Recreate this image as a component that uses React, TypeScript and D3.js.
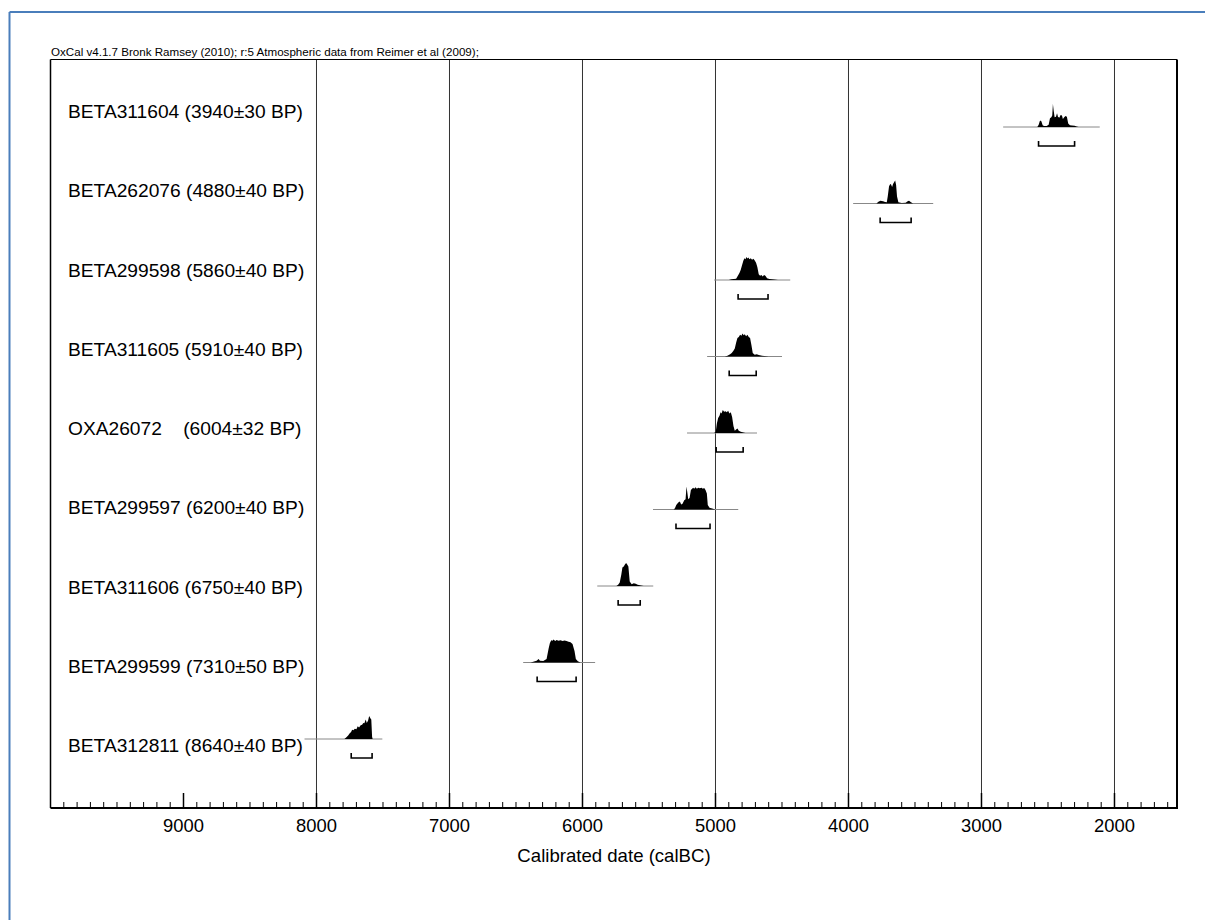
import React from "react";
import * as d3 from "d3";

const header = "OxCal v4.1.7 Bronk Ramsey (2010); r:5 Atmospheric data from Reimer et al (2009);";
const axisTitle = "Calibrated date (calBC)";
const majorTicks = [9000, 8000, 7000, 6000, 5000, 4000, 3000, 2000];
const gridYears = [8000, 7000, 6000, 5000, 4000, 3000, 2000];

const labels = [
  "BETA311604 (3940±30 BP)",
  "BETA262076 (4880±40 BP)",
  "BETA299598 (5860±40 BP)",
  "BETA311605 (5910±40 BP)",
  "OXA26072    (6004±32 BP)",
  "BETA299597 (6200±40 BP)",
  "BETA311606 (6750±40 BP)",
  "BETA299599 (7310±50 BP)",
  "BETA312811 (8640±40 BP)",
];

// baseline extents [from, to] in calBC
const baselineRanges: [number, number][] = [
  [2837, 2111],
  [3965, 3363],
  [5010, 4438],
  [5063, 4500],
  [5214, 4688],
  [5470, 4829],
  [5889, 5468],
  [6446, 5905],
  [8090, 7505],
];

// 95.4% ranges (brackets)
const hpdRanges: [number, number][] = [
  [2571, 2300],
  [3762, 3529],
  [4830, 4605],
  [4897, 4694],
  [4995, 4792],
  [5297, 5041],
  [5732, 5566],
  [6341, 6048],
  [7739, 7582],
];

// probability distributions: [calBC, relative probability]
const dist1: [number, number][] = [
  [2580, 0], [2570, 0.1], [2560, 0.28], [2550, 0.25], [2540, 0.08], [2530, 0.04], [2510, 0.04],
  [2495, 0.1], [2485, 0.38], [2475, 0.42], [2468, 0.5], [2463, 1.0], [2457, 0.7], [2450, 0.42],
  [2440, 0.45], [2432, 0.6], [2425, 0.45], [2415, 0.4], [2405, 0.52], [2395, 0.5], [2388, 0.35],
  [2378, 0.42], [2368, 0.48], [2358, 0.45], [2348, 0.15], [2335, 0.08], [2320, 0.06], [2300, 0.05],
  [2285, 0.02], [2270, 0],
];
const dist2: [number, number][] = [
  [3790, 0], [3775, 0.08], [3760, 0.12], [3740, 0.1], [3725, 0.06], [3712, 0.05], [3705, 0.3],
  [3695, 0.75], [3686, 0.85], [3680, 0.83], [3672, 0.72], [3665, 0.85], [3655, 0.95], [3649, 1.0],
  [3642, 0.8], [3635, 0.3], [3625, 0.05], [3600, 0.02], [3570, 0.03], [3555, 0.1], [3545, 0.12],
  [3530, 0.05], [3515, 0],
];
const dist3: [number, number][] = [
  [4900, 0], [4880, 0.03], [4845, 0.05], [4835, 0.15], [4820, 0.3], [4810, 0.45], [4800, 0.65],
  [4790, 0.85], [4782, 0.95], [4774, 0.9], [4768, 1.0], [4760, 0.93], [4752, 0.98], [4745, 0.9],
  [4735, 0.95], [4725, 0.88], [4715, 0.92], [4705, 0.85], [4695, 0.75], [4685, 0.55], [4675, 0.25],
  [4665, 0.18], [4655, 0.22], [4645, 0.15], [4635, 0.22], [4625, 0.18], [4612, 0.08], [4595, 0.04],
  [4560, 0.02], [4530, 0],
];
const dist4: [number, number][] = [
  [4930, 0], [4910, 0.03], [4890, 0.1], [4878, 0.15], [4865, 0.25], [4855, 0.35], [4845, 0.6],
  [4835, 0.8], [4825, 0.85], [4815, 0.95], [4805, 0.9], [4797, 1.0], [4788, 0.92], [4780, 0.97],
  [4770, 0.88], [4760, 0.95], [4750, 0.85], [4740, 0.8], [4730, 0.5], [4720, 0.15], [4705, 0.08],
  [4690, 0.1], [4675, 0.06], [4650, 0.03], [4600, 0],
];
const dist5: [number, number][] = [
  [5010, 0], [4998, 0.05], [4990, 0.4], [4980, 0.65], [4970, 0.75], [4962, 0.9], [4955, 0.85],
  [4945, 1.0], [4935, 0.92], [4925, 0.95], [4915, 0.9], [4905, 0.97], [4895, 0.85], [4885, 0.9],
  [4875, 0.7], [4865, 0.3], [4855, 0.1], [4845, 0.15], [4835, 0.2], [4825, 0.1], [4810, 0.05],
  [4790, 0.02], [4775, 0],
];
const dist6: [number, number][] = [
  [5315, 0], [5305, 0.05], [5295, 0.2], [5280, 0.3], [5268, 0.35], [5258, 0.22], [5248, 0.25],
  [5235, 0.4], [5225, 0.45], [5218, 1.0], [5212, 0.75], [5205, 0.45], [5195, 0.5], [5185, 0.85],
  [5176, 0.9], [5168, 0.95], [5160, 0.9], [5150, 0.97], [5140, 0.9], [5130, 0.95], [5118, 0.92],
  [5105, 0.95], [5095, 0.9], [5085, 0.93], [5075, 0.85], [5065, 0.7], [5058, 0.2], [5045, 0.08],
  [5025, 0.04], [5000, 0],
];
const dist7: [number, number][] = [
  [5745, 0], [5732, 0.05], [5720, 0.15], [5708, 0.5], [5700, 0.8], [5690, 0.85], [5680, 0.95],
  [5672, 1.0], [5665, 0.95], [5655, 0.85], [5645, 0.2], [5630, 0.08], [5615, 0.12], [5600, 0.1],
  [5585, 0.05], [5560, 0.02], [5540, 0],
];
const dist8: [number, number][] = [
  [6390, 0], [6370, 0.03], [6345, 0.08], [6330, 0.15], [6320, 0.08], [6295, 0.06], [6270, 0.15],
  [6255, 0.6], [6245, 0.85], [6235, 0.97], [6225, 0.95], [6218, 1.0], [6205, 0.93], [6195, 0.98],
  [6180, 0.95], [6165, 0.97], [6150, 0.93], [6135, 0.96], [6120, 0.94], [6105, 0.9], [6090, 0.88],
  [6075, 0.8], [6060, 0.5], [6050, 0.15], [6035, 0.05], [6015, 0],
];
const dist9: [number, number][] = [
  [7790, 0], [7775, 0.08], [7762, 0.15], [7750, 0.25], [7740, 0.3], [7732, 0.4], [7722, 0.38],
  [7712, 0.45], [7700, 0.42], [7690, 0.55], [7680, 0.5], [7668, 0.6], [7657, 0.62], [7648, 0.7],
  [7640, 0.68], [7630, 0.85], [7622, 0.7], [7612, 0.8], [7604, 1.0], [7595, 0.9], [7588, 0.85],
  [7582, 0.1], [7578, 0],
];
const distributions = [dist1, dist2, dist3, dist4, dist5, dist6, dist7, dist8, dist9];

const W = 1205;
const H = 920;
const FRAME = { left: 50.5, right: 1177, top: 59.5, bottom: 808 };
const FONT = "'Liberation Sans', Arial, Helvetica, sans-serif";

export default function App() {
  const x = d3.scaleLinear().domain([10000, 1530]).range([FRAME.left, FRAME.right]);
  const baseY = d3.scaleLinear().domain([0, 8]).range([127, 739]);
  const labelY = d3.scaleLinear().domain([0, 8]).range([111, 745]);
  const h = d3.scaleLinear().domain([0, 1]).range([0, 23]);
  const minorTicks = d3.range(1600, 10000, 100).filter((v) => v % 1000 !== 0);

  return (
    <svg
      width={W}
      height={H}
      style={{ position: "absolute", left: 0, top: 0, background: "#fff" }}
      fontFamily={FONT}
    >
      <rect x={0} y={0} width={W} height={H} fill="#fff" />
      {/* blue outer border (top & left) */}
      <line x1={9.5} y1={12} x2={W} y2={12} stroke="#4a7ebb" strokeWidth={2} />
      <line x1={9.5} y1={12} x2={9.5} y2={H} stroke="#4a7ebb" strokeWidth={2} />

      <text x={51} y={56} fontSize={11.6} fill="#000">{header}</text>

      {/* grid lines */}
      {gridYears.map((g) => (
        <line key={g} x1={x(g)} x2={x(g)} y1={FRAME.top} y2={FRAME.bottom} stroke="#333" strokeWidth={1} />
      ))}

      {/* frame */}
      <line x1={FRAME.left} x2={FRAME.right} y1={FRAME.top} y2={FRAME.top} stroke="#000" strokeWidth={1.2} />
      <line x1={FRAME.left} x2={FRAME.left} y1={FRAME.top} y2={FRAME.bottom} stroke="#000" strokeWidth={1.5} />
      <line x1={FRAME.right} x2={FRAME.right} y1={FRAME.top} y2={FRAME.bottom} stroke="#000" strokeWidth={2} />
      <line x1={FRAME.left} x2={FRAME.right + 1} y1={FRAME.bottom} y2={FRAME.bottom} stroke="#000" strokeWidth={2} />

      {/* ticks */}
      {minorTicks.map((t) => (
        <line key={t} x1={x(t)} x2={x(t)} y1={FRAME.bottom - 6} y2={FRAME.bottom} stroke="#000" strokeWidth={1} />
      ))}
      {majorTicks.map((t) => (
        <g key={t}>
          <line x1={x(t)} x2={x(t)} y1={FRAME.bottom - 15} y2={FRAME.bottom} stroke="#000" strokeWidth={1.5} />
          <text x={x(t)} y={832} fontSize={18.4} textAnchor="middle" fill="#000">{t}</text>
        </g>
      ))}
      <text x={614} y={862} fontSize={18.6} textAnchor="middle" fill="#000">{axisTitle}</text>

      {/* rows */}
      {labels.map((lab, i) => {
        const by = baseY(i);
        const area = d3
          .area<[number, number]>()
          .x((d) => x(d[0]))
          .y0(by)
          .y1((d) => by - h(d[1]))
          .curve(d3.curveLinear);
        const [b0, b1] = baselineRanges[i];
        const [r0, r1] = hpdRanges[i];
        const ry = by + 19;
        return (
          <g key={lab}>
            <text x={68} y={labelY(i) + 7} fontSize={19.2} fill="#000" style={{ whiteSpace: "pre" }}>
              {lab}
            </text>
            <line x1={x(b0)} x2={x(b1)} y1={by} y2={by} stroke="#888" strokeWidth={1} />
            <path d={area(distributions[i]) || ""} fill="#000" />
            <path
              d={`M${x(r0)},${ry - 5}V${ry}H${x(r1)}V${ry - 5}`}
              fill="none"
              stroke="#000"
              strokeWidth={1.6}
            />
          </g>
        );
      })}
    </svg>
  );
}
